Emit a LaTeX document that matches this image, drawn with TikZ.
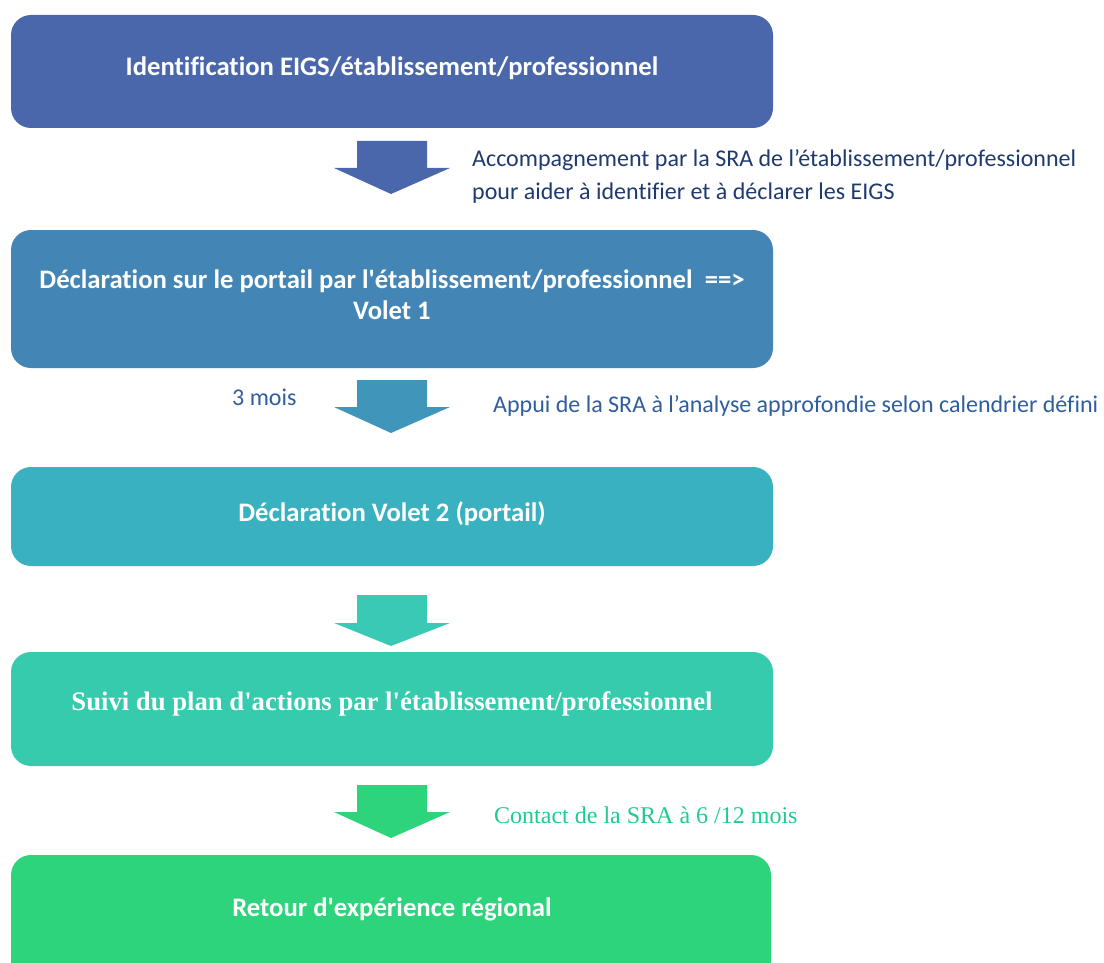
\documentclass[tikz,border=0pt]{standalone}
\usepackage{fontspec}
\newfontfamily\calib{Carlito}[Ligatures=NoCommon]
\newfontfamily\serifface{Liberation Serif}
\definecolor{cA}{HTML}{4A67AC}
\definecolor{cB}{HTML}{4386B5}
\definecolor{cBarrow}{HTML}{4096BA}
\definecolor{cC}{HTML}{3AB1C0}
\definecolor{cD}{HTML}{37CBAE}
\definecolor{cDarrow}{HTML}{39C9B4}
\definecolor{cE}{HTML}{2ED47B}
\definecolor{tnavy}{HTML}{1F3A6E}
\definecolor{tblue}{HTML}{2F5E9E}
\definecolor{tgreen}{HTML}{1ECB8F}
\tikzset{
  stepbox/.style={inner sep=0pt, text=white, font=\calib\fontsize{26.7}{31}\selectfont\bfseries, align=center},
  sidenote/.style={anchor=west, inner sep=0pt, align=left, font=\calib\fontsize{24}{33}\selectfont},
  boxfill/.style={rounded corners=20pt},
}
\begin{document}
\begin{tikzpicture}[x=1pt,y=-1pt]
\useasboundingbox (0,0) rectangle (1104,963);
% boxes
\fill[cA, boxfill] (11,15) rectangle (773,128);
\node[stepbox] (b1) at (392,68) {Identification EIGS/établissement/professionnel};
\fill[cB, boxfill] (11,230) rectangle (773,368);
\node[stepbox] (b2) at (392,295) {Déclaration sur le portail par l'établissement/professionnel\ \ ==>\\Volet 1};
\fill[cC, boxfill] (11,467) rectangle (773,566);
\node[stepbox] (b3) at (392,514) {Déclaration Volet 2 (portail)};
\fill[cD, boxfill] (11,652) rectangle (773,766);
\node[stepbox, font=\serifface\fontsize{26.7}{31}\selectfont\bfseries] (b4) at (392,704) {Suivi du plan d'actions par l'établissement/professionnel};
\fill[cE, boxfill] (11,855) rectangle (771,990);
\node[stepbox] (b5) at (392,909) {Retour d'expérience régional};
% block arrows
\fill[cA] (357,141) -- (427,141) -- (427,168) -- (450,168) -- (391,194) -- (334,168) -- (357,168) -- cycle;
\fill[cBarrow] (357,380) -- (427,380) -- (427,407) -- (450,407) -- (391,433) -- (334,407) -- (357,407) -- cycle;
\fill[cDarrow] (357,595) -- (427,595) -- (427,623) -- (450,623) -- (391,646) -- (334,623) -- (357,623) -- cycle;
\fill[cE] (357,785) -- (427,785) -- (427,812) -- (450,812) -- (391,838) -- (334,812) -- (357,812) -- cycle;
% side notes
\node[sidenote, text=tnavy] (n1) at (472,176.5) {Accompagnement par la SRA de l’établissement/professionnel\\pour aider à identifier et à déclarer les EIGS};
\node[sidenote, text=tblue] (n2) at (232,397) {3 mois};
\node[sidenote, text=tblue] (n3) at (493,406) {Appui de la SRA à l’analyse approfondie selon calendrier défini};
\node[sidenote, text=tgreen, font=\serifface\fontsize{24}{30}\selectfont] (n4) at (494,815) {Contact de la SRA à 6 /12 mois};
\end{tikzpicture}
\end{document}
